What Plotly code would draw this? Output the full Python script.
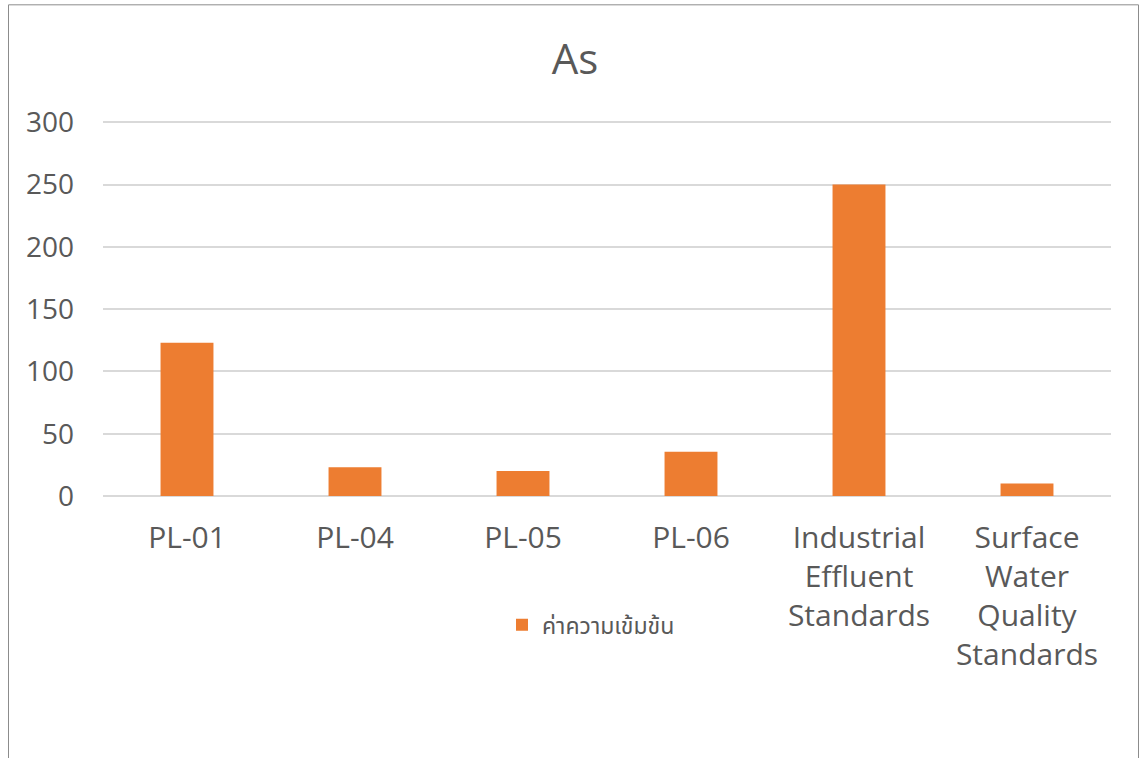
import plotly.graph_objects as go

# Arsenic concentration by sampling point and reference standards
categories = ["PL-01", "PL-04", "PL-05", "PL-06",
              "Industrial<br>Effluent<br>Standards",
              "Surface<br>Water<br>Quality<br>Standards"]
values = [123, 23, 20, 35.5, 250, 10]
series_name = "ค่าความเข้มข้น"
y_ticks = [0, 50, 100, 150, 200, 250, 300]
y_max = 301

W, H = 1141, 758
L, R = 103, 30
B = 262
unit = 374 / 300          # pixels per unit on the value axis
ph = unit * y_max
T = H - B - ph
pw = W - L - R

def px_x(p):
    return (p - L) / pw

def px_y(p):
    return (H - B - p) / ph

text_color = "#595959"
font_family = "Open Sans, Noto Sans, DejaVu Sans, sans-serif"

fig = go.Figure()
fig.add_trace(go.Bar(
    x=categories,
    y=values,
    name=series_name,
    marker=dict(color="#ED7D31", line=dict(width=0)),
    showlegend=True,
))

fig.update_layout(
    width=W, height=H,
    margin=dict(l=L, r=R, t=T, b=B, autoexpand=False),
    paper_bgcolor="white",
    plot_bgcolor="white",
    bargap=0.685,
    font=dict(family=font_family, color=text_color),
    title=dict(text="As", xref="container", x=575 / W, xanchor="center",
               yref="container", y=1 - 59 / H, yanchor="middle",
               font=dict(size=42, color=text_color, family=font_family)),
    showlegend=True,
    legend=dict(orientation="h", x=px_x(591), xanchor="center",
                y=px_y(625), yanchor="middle",
                font=dict(size=23, color=text_color, family="Noto Sans, Noto Sans Thai, sans-serif"),
                bgcolor="rgba(0,0,0,0)"),
    xaxis=dict(
        showgrid=False, showline=False, zeroline=False,
        ticks="", tickfont=dict(size=30, color=text_color),
        ticklabelstandoff=21,
    ),
    yaxis=dict(
        range=[0, y_max], tickvals=y_ticks,
        showgrid=True, gridcolor="#d9d9d9", gridwidth=1.5,
        zeroline=True, zerolinecolor="#d9d9d9", zerolinewidth=1.5,
        showline=False, ticks="",
        tickfont=dict(size=28, color=text_color),
        ticklabelstandoff=28,
    ),
    shapes=[dict(type="rect", xref="paper", yref="paper",
                 x0=px_x(8.5), x1=px_x(1138.5), y0=px_y(770), y1=px_y(4.5),
                 line=dict(color="#8c8c8c", width=1), fillcolor="rgba(0,0,0,0)",
                 layer="below")],
)

fig.write_html("out.html")
